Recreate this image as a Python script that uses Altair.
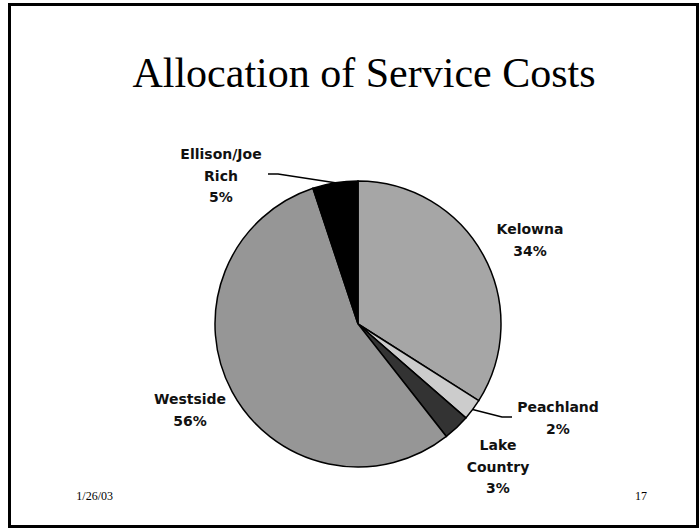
import math
import altair as alt
import pandas as pd

# ---- data ----
categories = ["Kelowna", "Peachland", "Lake Country", "Westside", "Ellison/Joe Rich"]
shares = [34.0, 2.4, 3.0, 55.5, 5.1]
pct_labels = ["34%", "2%", "3%", "56%", "5%"]
label_names = ["Kelowna", "Peachland", "Lake\nCountry", "Westside", "Ellison/Joe\nRich"]
colors = ["#a6a6a6", "#cccccc", "#333333", "#969696", "#000000"]
title_text = "Allocation of Service Costs"
footer_left = "1/26/03"
footer_right = "17"

# ---- layout ----
W, H = 699, 528
CX, CY, R = 358, 324, 143
label_anchor = {  # first-line baseline of each label block
    "Kelowna": (530, 234),
    "Peachland": (558, 412),
    "Lake Country": (498, 450),
    "Westside": (190, 404),
    "Ellison/Joe Rich": (221, 159),
}
leader_elbows = {  # label end, elbow
    "Ellison/Joe Rich": [(268, 174), (278, 174)],
    "Peachland": [(512, 417), (502, 417)],
}

pie_df = pd.DataFrame({"category": categories, "share": shares,
                       "idx": list(range(len(categories)))})

lab_df = pd.DataFrame({
    "category": categories,
    "text": [f"{n}\n{p}" for n, p in zip(label_names, pct_labels)],
    "x": [label_anchor[c][0] for c in categories],
    "y": [label_anchor[c][1] for c in categories],
})

# leader lines end at the slice mid-angle on the rim
total = sum(shares)
cum = 0.0
mids = {}
for c, v in zip(categories, shares):
    mids[c] = (cum + v / 2) / total * 2 * math.pi
    cum += v
rows = []
for c, pts in leader_elbows.items():
    a = mids[c]
    rim = (CX + R * math.sin(a), CY - R * math.cos(a))
    for i, (px, py) in enumerate(pts + [rim]):
        rows.append({"category": c, "seq": i, "x": px, "y": py})
lead_df = pd.DataFrame(rows)

dummy = pd.DataFrame({"a": [0]})

border = alt.Chart(dummy).mark_rect(
    fill="white", fillOpacity=0, stroke="black", strokeWidth=3
).encode(x=alt.value(9.5), x2=alt.value(697.5), y=alt.value(4.5), y2=alt.value(526.5))

title = alt.Chart(dummy).mark_text(
    font="Liberation Serif", fontSize=42, align="center", baseline="alphabetic", color="black"
).encode(x=alt.value(364), y=alt.value(87), text=alt.value(title_text))

pie = alt.Chart(pie_df).mark_arc(
    radius=R, stroke="black", strokeWidth=1.5
).encode(
    theta=alt.Theta("share:Q", stack=True),
    order=alt.Order("idx:Q"),
    color=alt.Color("category:N", scale=alt.Scale(domain=categories, range=colors), legend=None),
    x=alt.value(CX), y=alt.value(CY),
)

leads = alt.Chart(lead_df).mark_line(color="black", strokeWidth=1.5).encode(
    x=alt.X("x:Q", scale=None), y=alt.Y("y:Q", scale=None),
    detail="category:N", order="seq:Q",
)

labels = alt.Chart(lab_df).mark_text(
    font="DejaVu Sans", fontWeight="bold", fontSize=14, align="center",
    baseline="alphabetic", lineBreak="\n", lineHeight=21.5, color="#111111"
).encode(x=alt.X("x:Q", scale=None), y=alt.Y("y:Q", scale=None), text="text:N")

foot_l = alt.Chart(dummy).mark_text(
    font="Liberation Serif", fontSize=12, align="right", baseline="alphabetic", color="black"
).encode(x=alt.value(113), y=alt.value(500), text=alt.value(footer_left))

foot_r = alt.Chart(dummy).mark_text(
    font="Liberation Serif", fontSize=12, align="center", baseline="alphabetic", color="black"
).encode(x=alt.value(641), y=alt.value(500), text=alt.value(footer_right))

chart = alt.layer(border, title, pie, leads, labels, foot_l, foot_r).properties(
    width=W, height=H, autosize="none", padding=0, background="white"
).configure_view(strokeWidth=0)

chart.save("out.html", embed_options={"renderer": "svg", "actions": False})
